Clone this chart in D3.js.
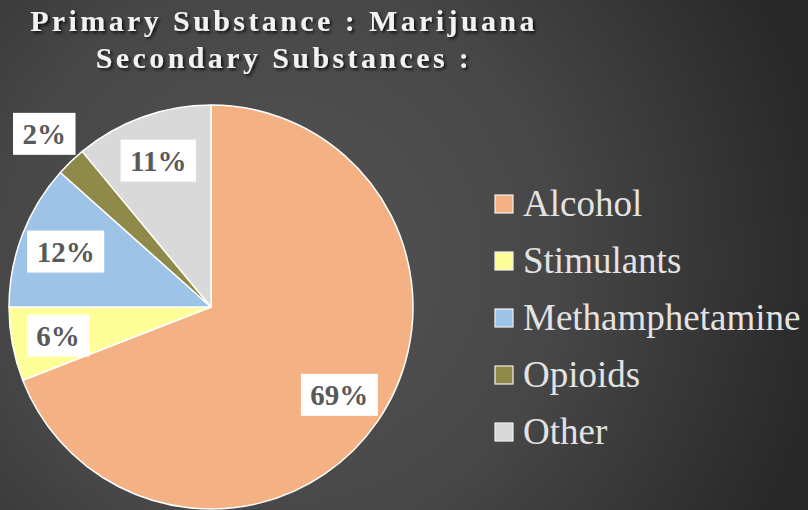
<!DOCTYPE html>
<html><head><meta charset="utf-8">
<script src="https://cdn.jsdelivr.net/npm/d3@7"></script>
<style>html,body{margin:0;padding:0;background:#333;}svg{display:block;}
svg text{font-family:"Liberation Serif","DejaVu Serif",serif;}</style>
</head><body>
<svg id="chart" width="808" height="510"></svg>
<script>
const titleLines = ["Primary Substance : Marijuana", "Secondary Substances :"];
const categories = ["Alcohol", "Stimulants", "Methamphetamine", "Opioids", "Other"];
const values = [69.1, 5.9, 11.6, 2.4, 11.0];
const colors = ["#F4B183", "#FFFF99", "#9DC3E6", "#8F8A4A", "#D9D9D9"];

const W = 808, H = 510;
const svg = d3.select("#chart");
const defs = svg.append("defs");
const grad = defs.append("radialGradient").attr("id","bg")
  .attr("gradientUnits","userSpaceOnUse").attr("cx",280).attr("cy",260).attr("r",560);
grad.append("stop").attr("offset","0").attr("stop-color","#545454");
grad.append("stop").attr("offset","0.5").attr("stop-color","#474747");
grad.append("stop").attr("offset","0.95").attr("stop-color","#2a2a2a");
grad.append("stop").attr("offset","1").attr("stop-color","#272727");
svg.append("rect").attr("width",W).attr("height",H).attr("fill","url(#bg)");

const sh = defs.append("filter").attr("id","shadow").attr("x","-10%").attr("y","-30%").attr("width","120%").attr("height","160%");
sh.append("feDropShadow").attr("dx",2).attr("dy",2).attr("stdDeviation",1.5).attr("flood-color","#000").attr("flood-opacity",0.75);

// Title
svg.append("g").selectAll("text").data(titleLines).join("text")
  .attr("x", 284).attr("y", (d,i) => 31 + i*37)
  .attr("text-anchor","middle")
  .style("font-weight","bold").style("font-size","30px")
  .attr("letter-spacing",3.4)
  .attr("fill","#f2f2f2").attr("filter","url(#shadow)")
  .text(d => d);

// Pie
const data = categories.map((c,i) => ({name:c, v:values[i], color:colors[i]}));
const cx = 211, cy = 307, R = 202;
const pie = d3.pie().sort(null).value(d => d.v);
const arcs = pie(data);
const arc = d3.arc().innerRadius(0).outerRadius(R);
const g = svg.append("g").attr("transform",`translate(${cx},${cy})`);
g.selectAll("path").data(arcs).join("path")
  .attr("d", arc).attr("fill", d => d.data.color)
  .attr("stroke","#ffffff").attr("stroke-width",1.5).attr("stroke-linejoin","round");

const total = d3.sum(values);
const inArc = d3.arc().innerRadius(R*0.77).outerRadius(R*0.77);
const outArc = d3.arc().innerRadius(R*1.19).outerRadius(R*1.19);
const fmt = d3.format(".0%");
const lbl = g.selectAll("g.lbl").data(arcs).join("g").attr("class","lbl")
  .attr("transform", d => {
    const p = (d.data.v/total < 0.03 ? outArc : inArc).centroid(d);
    return `translate(${p[0]},${p[1]})`;
  });
lbl.each(function(d){
  const gg = d3.select(this);
  const rect = gg.append("rect").attr("fill","#ffffff");
  const t = gg.append("text").attr("text-anchor","middle").attr("y",10)
    .style("font-weight","bold").style("font-size","29px").attr("fill","#595959")
    .text(fmt(d.data.v/total));
  const w = t.node().getComputedTextLength() + 19;
  rect.attr("x",-w/2).attr("y",-21).attr("width",w).attr("height",42);
});

// Legend
const leg = svg.append("g").selectAll("g").data(data).join("g")
  .attr("transform",(d,i) => `translate(495,${195 + i*57})`);
leg.append("rect").attr("width",18).attr("height",18).attr("fill",d=>d.color)
  .attr("stroke","#f0f0f0").attr("stroke-width",1.2);
leg.append("text").attr("x",28).attr("y",21)
  .style("font-size","37px").attr("fill","#e3e3e3")
  .text(d=>d.name);
</script>
</body></html>
